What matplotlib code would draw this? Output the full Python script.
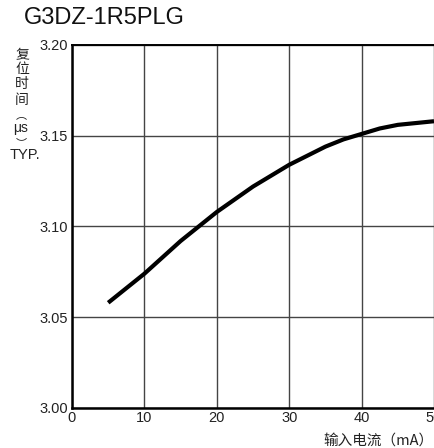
import matplotlib
matplotlib.use("Agg")
import matplotlib.pyplot as plt

# data
current_mA = [5, 7.5, 10, 12.5, 15, 17.5, 20, 22.5, 25, 27.5, 30, 32.5, 35, 37.5, 40, 42.5, 45, 47.5, 50]
reset_time_us = [3.058, 3.066, 3.074, 3.083, 3.092, 3.100, 3.108, 3.115, 3.122, 3.128, 3.134,
                 3.139, 3.144, 3.148, 3.151, 3.154, 3.156, 3.157, 3.158]
x_ticks = [0, 10, 20, 30, 40, 50]
y_ticks = [3.00, 3.05, 3.10, 3.15, 3.20]
y_tick_labels = ["3.00", "3.05", "3.10", "3.15", "3.20"]
title = "G3DZ-1R5PLG"
x_label = "输入电流（mA）"
y_label_chars = ["复", "位", "时", "间", "︵", "μs", "︶", "TYP."]

W, H = 434, 448
fig = plt.figure(figsize=(W / 100, H / 100), dpi=100)
latin = ["Liberation Sans", "DejaVu Sans"]
cjk = ["Noto Sans CJK SC", "DejaVu Sans"]

ax = fig.add_axes([72 / W, 1 - 408 / H, (434 - 72) / W, 363 / H])
ax.set_xlim(0, 50)
ax.set_ylim(3.00, 3.20)
ax.set_xticks(x_ticks)
ax.set_yticks(y_ticks)
ax.set_yticklabels(y_tick_labels)
ax.tick_params(length=0, labelsize=10.5, pad=3)
ax.tick_params(axis="x", pad=2)
for lab in ax.get_xticklabels() + ax.get_yticklabels():
    lab.set_family(latin)
    lab.set_color("#222222")
ax.grid(True, color="#444444", linewidth=1.0)
for s in ["left", "bottom"]:
    ax.spines[s].set_linewidth(1.8)
    ax.spines[s].set_color("black")
ax.spines["top"].set_linewidth(1.4)
ax.spines["right"].set_visible(False)

ax.plot(current_mA, reset_time_us, color="black", linewidth=3.0,
        solid_capstyle="butt", solid_joinstyle="round", zorder=3)

fig.text(24 / W, 1 - 18 / H, title, family=latin, fontsize=17, ha="left", va="center", color="#111111")

ys = [55, 69, 84, 100, 115, 128, 143, 155]
xs = [22, 22, 22, 22, 21, 21, 21, 25]
sizes = [10, 10, 10, 10, 8, 10, 8, 10.5]
for ch, xx, yy, fs in zip(y_label_chars, xs, ys, sizes):
    fam = latin if ch in ("μs", "TYP.") else cjk
    fig.text(xx / W, 1 - yy / H, ch, family=fam, fontsize=fs,
             ha="center", va="center", color="#222222")

fig.text(433 / W, 1 - 441 / H, x_label, family=cjk, fontsize=10.5, ha="right", va="center", color="#222222")

fig.savefig("out.png", dpi=100)
